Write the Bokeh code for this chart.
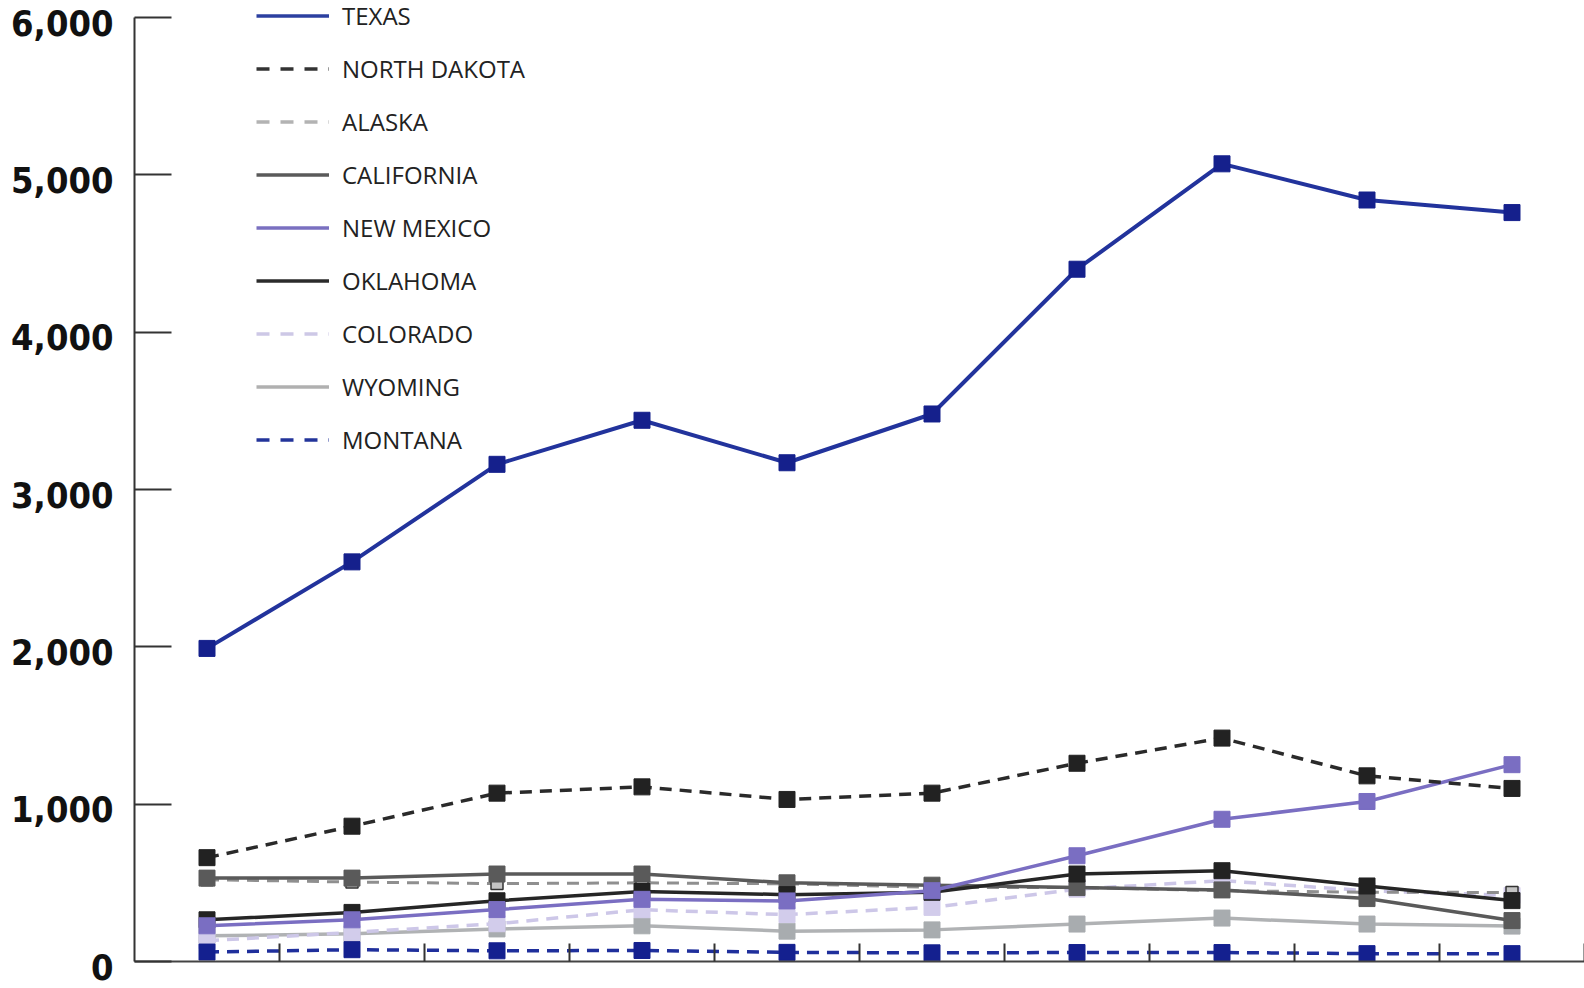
from bokeh.plotting import figure
from bokeh.models import (Legend, LegendItem, FixedTicker, Range1d,
                          CustomLabelingPolicy)
from bokeh.core.properties import value
from bokeh.embed import file_html
from bokeh.resources import INLINE

# ---- data (10 unlabeled periods) ----
periods = [1, 2, 3, 4, 5, 6, 7, 8, 9, 10]
y_ticks = [0, 1000, 2000, 3000, 4000, 5000, 6000]
y_tick_labels = ["0", "1,000", "2,000", "3,000", "4,000", "5,000", "6,000"]

texas = [1990, 2540, 3160, 3440, 3170, 3480, 4400, 5070, 4840, 4760]
north_dakota = [660, 860, 1070, 1110, 1030, 1070, 1260, 1420, 1180, 1100]
alaska = [520, 505, 495, 500, 494, 471, 471, 450, 440, 439]
california = [530, 530, 556, 556, 500, 485, 470, 455, 400, 260]
new_mexico = [227, 265, 330, 395, 385, 450, 672, 904, 1017, 1251]
oklahoma = [265, 312, 386, 445, 425, 440, 556, 577, 480, 387]
colorado = [132, 185, 240, 329, 298, 344, 460, 514, 450, 420]
wyoming = [163, 176, 207, 227, 193, 201, 238, 276, 238, 225]
montana = [60, 75, 68, 70, 58, 55, 57, 57, 50, 50]

names = ["TEXAS", "NORTH DAKOTA", "ALASKA", "CALIFORNIA", "NEW MEXICO",
         "OKLAHOMA", "COLORADO", "WYOMING", "MONTANA"]
values_by_name = {
    "TEXAS": texas, "NORTH DAKOTA": north_dakota, "ALASKA": alaska,
    "CALIFORNIA": california, "NEW MEXICO": new_mexico, "OKLAHOMA": oklahoma,
    "COLORADO": colorado, "WYOMING": wyoming, "MONTANA": montana,
}

# style: line color, dash, width, marker fill, marker outline, marker size
styles = {
    "TEXAS": ("#22339c", "solid", 4, "#15208c", "#15208c", 16),
    "NORTH DAKOTA": ("#2a2a2a", "12 8", 3.5, "#222222", "#222222", 16),
    "ALASKA": ("#8f8f8f", "12 8", 3, "#c4c4c4", "#333333", 12),
    "CALIFORNIA": ("#5a5a5a", "solid", 3.5, "#5a5a5a", "#5a5a5a", 16),
    "NEW MEXICO": ("#7a6ec2", "solid", 3.5, "#7a6ec2", "#7a6ec2", 16),
    "OKLAHOMA": ("#262626", "solid", 3.5, "#222222", "#222222", 16),
    "COLORADO": ("#cdc7e8", "12 8", 3.5, "#d2cceb", "#d2cceb", 16),
    "WYOMING": ("#b0b2b4", "solid", 3.5, "#a8acaf", "#a8acaf", 16),
    "MONTANA": ("#1f2f9c", "12 8", 3.5, "#14208f", "#14208f", 16),
}
legend_colors = {
    "TEXAS": "#2c40a0", "NORTH DAKOTA": "#333333", "ALASKA": "#b3b3b3",
    "CALIFORNIA": "#5a5a5a", "NEW MEXICO": "#7a70c0", "OKLAHOMA": "#2b2b2b",
    "COLORADO": "#cdc8e6", "WYOMING": "#b0b0b0", "MONTANA": "#23349a",
}
legend_dash = {
    "TEXAS": "solid", "NORTH DAKOTA": "13 11", "ALASKA": "13 11",
    "CALIFORNIA": "solid", "NEW MEXICO": "solid", "OKLAHOMA": "solid",
    "COLORADO": "13 11", "WYOMING": "solid", "MONTANA": "13 11",
}

draw_order = ["WYOMING", "COLORADO", "ALASKA", "CALIFORNIA", "OKLAHOMA",
              "NEW MEXICO", "MONTANA", "NORTH DAKOTA", "TEXAS"]

# layout (pixels)
fig_w, fig_h = 1584, 988
frame_left, frame_bottom_border = 134, 27
top_tick_px = 17                      # distance of the top tick below the canvas top
frame_h = fig_h - frame_bottom_border
y_top = y_ticks[-1] * frame_h / (frame_h - top_tick_px)

x_start = periods[0] - 0.5
x_end = periods[-1] + 0.5

p = figure(width=fig_w, height=fig_h, output_backend="svg", toolbar_location=None,
           x_range=Range1d(x_start, x_end), y_range=Range1d(y_ticks[0], y_top),
           min_border_left=frame_left, min_border_right=0, min_border_top=0,
           min_border_bottom=frame_bottom_border)
p.outline_line_color = None
p.xgrid.visible = False
p.ygrid.visible = False
p.background_fill_color = "white"

no_labels = CustomLabelingPolicy(code="return []")

# y axis
p.yaxis.ticker = FixedTicker(ticks=y_ticks)
p.yaxis.bounds = (y_ticks[0], y_ticks[-1])
p.yaxis.major_tick_in = 37
p.yaxis.major_tick_out = 0
p.yaxis.major_tick_line_width = 2
p.yaxis.major_tick_line_color = "#333333"
p.yaxis.axis_line_width = 2
p.yaxis.axis_line_color = "#333333"
p.yaxis.minor_tick_line_color = None
p.yaxis.major_label_policy = no_labels
p.yaxis.major_label_text_font_size = "8px"

# x axis
p.xaxis.ticker = FixedTicker(ticks=[v + 0.5 for v in periods])
p.xaxis.major_tick_in = 18
p.xaxis.major_tick_out = 0
p.xaxis.major_tick_line_width = 2
p.xaxis.major_tick_line_color = "#333333"
p.xaxis.axis_line_width = 2
p.xaxis.axis_line_color = "#444444"
p.xaxis.minor_tick_line_color = None
p.xaxis.major_label_policy = no_labels
p.xaxis.major_label_text_font_size = "8px"

# y tick labels (bold, set slightly below each tick)
p.text(x=[x_start] * len(y_ticks), y=y_ticks, text=y_tick_labels,
       x_offset=-21, y_offset=5, text_align="right", text_baseline="middle",
       text_font=value("DejaVu Sans Condensed"), text_font_style="bold",
       text_font_size="36px", text_color="#111111", level="overlay")

for name in draw_order:
    vals = values_by_name[name]
    lc, dash, lw, mf, ml, ms = styles[name]
    p.line(periods, vals, line_color=lc, line_width=lw, line_dash=dash)
    p.scatter(periods, vals, marker="square", size=ms, fill_color=mf,
              line_color=ml, line_width=1.5 if name == "ALASKA" else 1)

# legend key lines: proxy renderers holding a single undefined value
legend_items = []
for name in names:
    r = p.line([periods[0]], [float("nan")], line_color=legend_colors[name],
               line_width=3.5, line_dash=legend_dash[name])
    legend_items.append(LegendItem(label=name, renderers=[r]))

legend = Legend(items=legend_items, location=(122, 505),
                glyph_width=73, glyph_height=33, label_height=33,
                label_standoff=13, spacing=20, padding=0, margin=0,
                border_line_alpha=0, background_fill_alpha=0,
                label_text_font="Open Sans", label_text_font_size="24px",
                label_text_color="#222222")
p.add_layout(legend)

open("out.html", "w").write(file_html(p, INLINE))
